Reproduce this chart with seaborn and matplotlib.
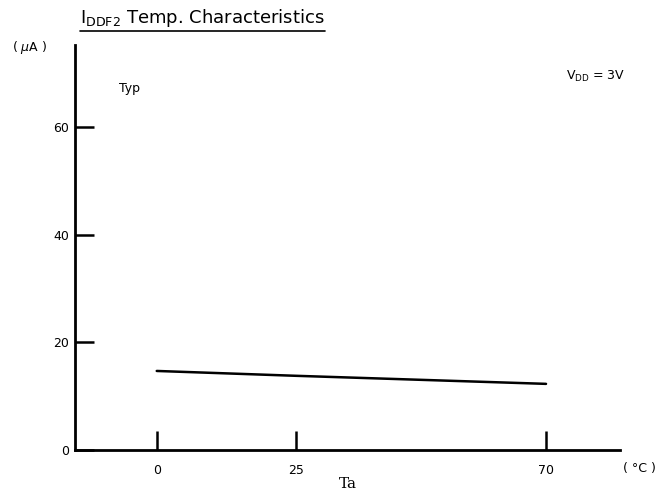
"""
IDDF2 temperature characteristic curve.
"""

import matplotlib
matplotlib.use('Agg')
import matplotlib.pyplot as plt
import seaborn as sns
import pandas as pd
from matplotlib.lines import Line2D

# data
temp_c = [0, 25, 70]
iddf2_ua = [14.7, 13.8, 12.3]
x_ticks = [0, 25, 70]
y_ticks = [0, 20, 40, 60]

df = pd.DataFrame({'Ta': temp_c, 'IDDF2': iddf2_ua})

sns.set_style('white')
plt.rcParams['font.family'] = ['DejaVu Sans']
plt.rcParams['text.color'] = 'black'

fig = plt.figure(figsize=(6.59, 5.04), dpi=100)
ax = fig.add_axes([0.1138, 0.1071, 0.827, 0.8036])

sns.lineplot(data=df, x='Ta', y='IDDF2', ax=ax, color='black', lw=1.8)

ax.set_xlim(-14.7, 83.3)
ax.set_ylim(0, 75.3)
ax.set_xticks(x_ticks)
ax.set_yticks(y_ticks)
ax.set_xticklabels([str(t) for t in x_ticks], fontsize=9)
ax.set_yticklabels([str(t) for t in y_ticks], fontsize=9)
ax.tick_params(axis='both', direction='in', length=14, width=1.8,
               colors='black', bottom=True, left=True)
ax.tick_params(axis='x', pad=10)
ax.tick_params(axis='y', pad=4)

for side in ['top', 'right']:
    ax.spines[side].set_visible(False)
for side in ['left', 'bottom']:
    ax.spines[side].set_linewidth(2)
    ax.spines[side].set_color('black')

ax.set_xlabel('Ta', fontsize=11, family='DejaVu Serif', labelpad=0, color='black')
ax.set_ylabel('')

# annotations
ax.text(0.08, 0.885, 'Typ', transform=ax.transAxes, fontsize=9)
ax.text(1.01, 0.915, r'V$_{\mathregular{DD}}$ = 3V', transform=ax.transAxes,
        fontsize=9, ha='right')
fig.text(0.018, 0.898, '( $\\mu$A )', fontsize=9)
fig.text(0.945, 0.063, '( °C )', fontsize=9)

title = fig.text(0.122, 0.955, r'I$_{\mathregular{DDF2}}$ Temp. Characteristics',
                 fontsize=13)
fig.canvas.draw()
bb = title.get_window_extent().transformed(fig.transFigure.inverted())
fig.add_artist(Line2D([bb.x0, bb.x1], [bb.y0 - 0.004, bb.y0 - 0.004],
                      transform=fig.transFigure, color='black', lw=1.2))

fig.savefig('out.png', dpi=100)
